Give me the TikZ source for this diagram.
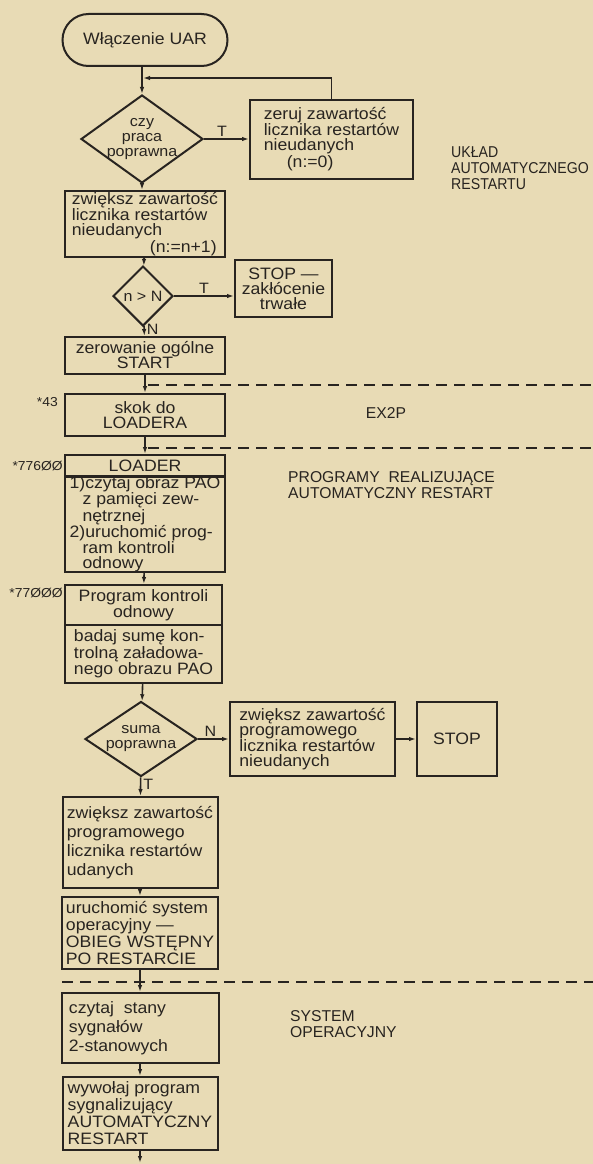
\documentclass[tikz,border=0pt]{standalone}
\usepackage{fontspec}
\setmainfont{Liberation Sans}[FakeStretch=1.07]
\newfontfamily\opisfont{Liberation Sans}
\newfontfamily\waskifont{Liberation Sans}[FakeStretch=0.9]
\usetikzlibrary{shapes.geometric,arrows.meta}
\definecolor{paper}{RGB}{232,219,181}
\definecolor{ink}{RGB}{40,36,32}
\tikzset{
  blok/.style={draw, line width=2pt, inner xsep=4pt, inner ysep=0pt, align=left, font=\fontsize{16.5}{15}\selectfont},
  blokdol/.style={blok, font=\fontsize{16.5}{17}\selectfont},
  decyzja/.style={draw, diamond, line width=2pt, inner sep=0pt},
  napis/.style={font=\fontsize{15}{15}\selectfont, align=center, inner sep=0pt},
  strz/.style={line width=1.6pt, -{Latex[length=7pt,width=4.5pt]}},
  kreski/.style={line width=1.6pt, dash pattern=on 11pt off 7pt},
  etyk/.style={font=\fontsize{15}{15}\selectfont, inner sep=2pt},
  adres/.style={font=\fontsize{13}{13}\selectfont, anchor=east, inner sep=0pt},
  sekcja/.style={font=\opisfont\fontsize{15.7}{16.5}\selectfont, align=left, anchor=west, inner sep=0pt}
}

\begin{document}
\begin{tikzpicture}[x=1pt, y=-1pt, color=ink]
\fill[paper] (0,0) rectangle (593,1164);
\useasboundingbox (0,0) rectangle (593,1164);

\node[blok, rounded corners=26pt, minimum width=165pt, minimum height=52pt, align=center] (start) at (145,40) {Włączenie UAR};
\node[decyzja, minimum width=122pt, minimum height=88pt, label={[napis]center:czy\\praca\\poprawna}] (czy) at (142,139) {};
\node[blok, minimum width=163pt, minimum height=79pt] (zeruj) at (331.5,139) {zeruj zawartość\\licznika restartów\\nieudanych\\\hspace*{23pt}(n:=0)};
\node[blok, minimum width=160pt, minimum height=66pt] (nieud) at (145,224) {zwiększ zawartość\\licznika restartów\\nieudanych\\\hspace*{78pt}(n:=n+1)};
\node[decyzja, minimum width=60pt, minimum height=60pt, label={[napis]center:n > N}] (wiekszy) at (143,296) {};
\node[blok, minimum width=97pt, minimum height=57pt, align=center] (trwale) at (283.5,288.5) {STOP —\\zakłócenie\\trwałe};
\node[blok, minimum width=160pt, minimum height=37pt, align=center] (zerow) at (145,355.5) {zerowanie ogólne\\START};
\node[blok, minimum width=160pt, minimum height=42pt, align=center] (skok) at (145,415) {skok do\\LOADERA};
\node[blok, minimum width=160pt, minimum height=22pt, align=center] (loadhd) at (145,466) {LOADER};
\node[blok, minimum width=160pt, minimum height=94pt, font=\fontsize{16.5}{14.3}\selectfont] (loadbd) at (145,524) {1)czytaj obraz PAO\\\hspace*{13pt}z pamięci zew-\\\hspace*{13pt}nętrznej\\2)uruchomić prog-\\\hspace*{13pt}ram kontroli\\\hspace*{13pt}odnowy};
\node[blok, minimum width=157pt, minimum height=40pt, align=center] (proghd) at (143.5,605) {Program kontroli\\odnowy};
\node[blok, minimum width=157pt, minimum height=58pt] (progbd) at (143.5,654) {badaj sumę kon-\\trolną załadowa-\\nego obrazu PAO};
\node[decyzja, minimum width=112pt, minimum height=75pt, label={[napis]center:suma\\poprawna}] (suma) at (141,739) {};
\node[blok, minimum width=165pt, minimum height=74pt] (zwprog) at (312.5,739) {zwiększ zawartość\\programowego\\licznika restartów\\nieudanych};
\node[blok, minimum width=80pt, minimum height=74pt, align=center] (stop) at (457,739) {STOP};
\node[blokdol, minimum width=155pt, minimum height=91pt, font=\fontsize{16.5}{19}\selectfont] (zwud) at (140,842.5) {zwiększ zawartość\\programowego\\licznika restartów\\udanych};
\node[blokdol, minimum width=155pt, minimum height=72pt] (uruch) at (140,933) {uruchomić system\\operacyjny —\\OBIEG WSTĘPNY\\PO RESTARCIE};
\node[blokdol, minimum width=157pt, minimum height=70pt, font=\fontsize{16.5}{19}\selectfont] (czyt) at (140,1028) {czytaj \ stany\hspace*{45pt}\\sygnałów\\2-stanowych};
\node[blokdol, minimum width=155pt, minimum height=73pt] (wywol) at (140,1113.5) {wywołaj program\\sygnalizujący\\AUTOMATYCZNY\\RESTART};
\coordinate (powrot) at (143,78);
\coordinate (dalej) at (140,1163);

\node[sekcja, font=\waskifont\fontsize{15.7}{16}\selectfont] (uklad) at (451,168) {UKŁAD\\AUTOMATYCZNEGO\\RESTARTU};
\node[sekcja, anchor=center] (ex2p) at (386,413) {EX2P};
\node[sekcja] (programy) at (288,485) {PROGRAMY \ REALIZUJĄCE\\AUTOMATYCZNY RESTART};
\node[sekcja] (system) at (290,1024) {SYSTEM\\OPERACYJNY};
\node[adres] (a43) at (58,402) {*43};
\node[adres] (a77600) at (63,466) {*776ØØ};
\node[adres] (a77000) at (63,593) {*77ØØØ};

\draw[kreski] (148,385) -- (593,385);
\draw[kreski] (148,448) -- (593,448);
\draw[kreski] (62,982) -- (593,982);

\draw[strz] (start.south -| czy.north) -- (czy);
\draw[strz] (zeruj.north) |- (powrot);
\draw[strz] (czy.east) -- node[etyk, above, pos=0.4] {T} (zeruj.west);
\draw[strz] (czy.south) -- (czy.south |- nieud.north);
\draw[strz] (nieud) -- (wiekszy);
\draw[strz] (wiekszy.east) -- node[etyk, above] {T} (wiekszy.east -| trwale.west);
\draw[strz] (wiekszy) -- node[etyk, right, pos=0.35] {N} (zerow);
\draw[strz] (zerow) -- (skok);
\draw[strz] (skok) -- (loadhd);
\draw[strz] (loadbd) -- (proghd);
\draw[strz] (progbd) -- (suma);
\draw[strz] (suma.east) -- node[etyk, above, pos=0.4] {N} (zwprog.west);
\draw[strz] (zwprog) -- (stop);
\draw[strz] (suma) -- node[etyk, right, pos=0.4] {T} (zwud);
\draw[strz] (zwud) -- (uruch);
\draw[strz] (uruch) -- (czyt);
\draw[strz] (czyt) -- (wywol);
\draw[strz] (wywol) -- (dalej);
\end{tikzpicture}
\end{document}
